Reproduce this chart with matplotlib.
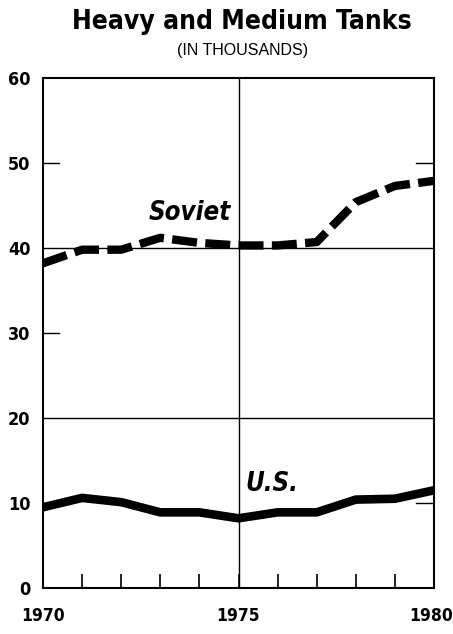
import matplotlib
matplotlib.use("Agg")
import matplotlib.pyplot as plt
from matplotlib.ticker import FixedLocator
from matplotlib.transforms import ScaledTranslation

years = [1970, 1971, 1972, 1973, 1974, 1975, 1976, 1977, 1978, 1979, 1980]
soviet = [38.2, 39.8, 39.8, 41.2, 40.6, 40.3, 40.3, 40.7, 45.4, 47.3, 47.9]
us = [9.5, 10.6, 10.1, 8.9, 8.9, 8.2, 8.9, 8.9, 10.4, 10.5, 11.5]
ytick_labels = [0, 10, 20, 30, 40, 50, 60]
xtick_labels = [1970, 1975, 1980]

FAM = ['DejaVu Sans']
FAM_REG = ['Liberation Sans', 'DejaVu Sans']
ST = 'condensed'

fig = plt.figure(figsize=(4.53, 6.34), dpi=100)
ax = fig.add_axes([43/453, 1 - 588/634, (434-43)/453, (588-78)/634])

ax.set_xlim(1970, 1980)
ax.set_ylim(0, 60)

for g in [20, 40]:
    ax.axhline(g, color='black', lw=1.0, zorder=1)
ax.axvline(1975, color='black', lw=1.0, zorder=1)

ls, = ax.plot(years, soviet, color='black', lw=6, solid_capstyle='butt',
              dash_capstyle='butt', zorder=3)
ls.set_dashes((3.0, 1.0))
ax.plot(years, us, color='black', lw=6.2, solid_capstyle='butt',
        solid_joinstyle='round', zorder=3)

for s in ax.spines.values():
    s.set_linewidth(1.5)
    s.set_color('black')

ax.xaxis.set_major_locator(FixedLocator(xtick_labels))
ax.xaxis.set_minor_locator(FixedLocator(years))
ax.tick_params(axis='x', which='both', direction='in', length=10, width=1.2,
               top=False, pad=14)
ax.set_xticklabels([str(v) for v in xtick_labels], fontfamily=FAM,
                   fontweight='bold', fontsize=12.5, fontstretch=ST)
last = ax.get_xticklabels()[-1]
last.set_transform(last.get_transform() + ScaledTranslation(-3/100, 0, fig.dpi_scale_trans))

ax.yaxis.set_major_locator(FixedLocator(ytick_labels))
ax.tick_params(axis='y', which='major', direction='in', length=0, pad=9)
ax.set_yticklabels([str(v) for v in ytick_labels], fontfamily=FAM,
                   fontweight='bold', fontsize=13, fontstretch=ST)
for yv in [10, 30, 50]:
    ax.plot([1970, 1970.4], [yv, yv], color='black', lw=1.0, zorder=2)
for yv in [10, 50]:
    ax.plot([1979.55, 1980], [yv, yv], color='black', lw=1.0, zorder=2)

ax.text(1973.76, 44.1, 'Soviet', fontfamily=FAM, fontweight='bold',
        fontstyle='italic', fontsize=18.5, ha='center', va='center', fontstretch=ST)
ax.text(1975.86, 12.2, 'U.S.', fontfamily=FAM, fontweight='bold',
        fontstyle='italic', fontsize=18.5, ha='center', va='center', fontstretch=ST)

fig.text(0.535, 1 - 22/634, 'Heavy and Medium Tanks', fontfamily=FAM,
         fontweight='bold', fontsize=19, ha='center', va='center', fontstretch=ST)
fig.text(0.535, 1 - 50/634, '(IN THOUSANDS)', fontfamily=FAM_REG,
         fontsize=11.5, ha='center', va='center')

fig.savefig('out.png', dpi=100)
